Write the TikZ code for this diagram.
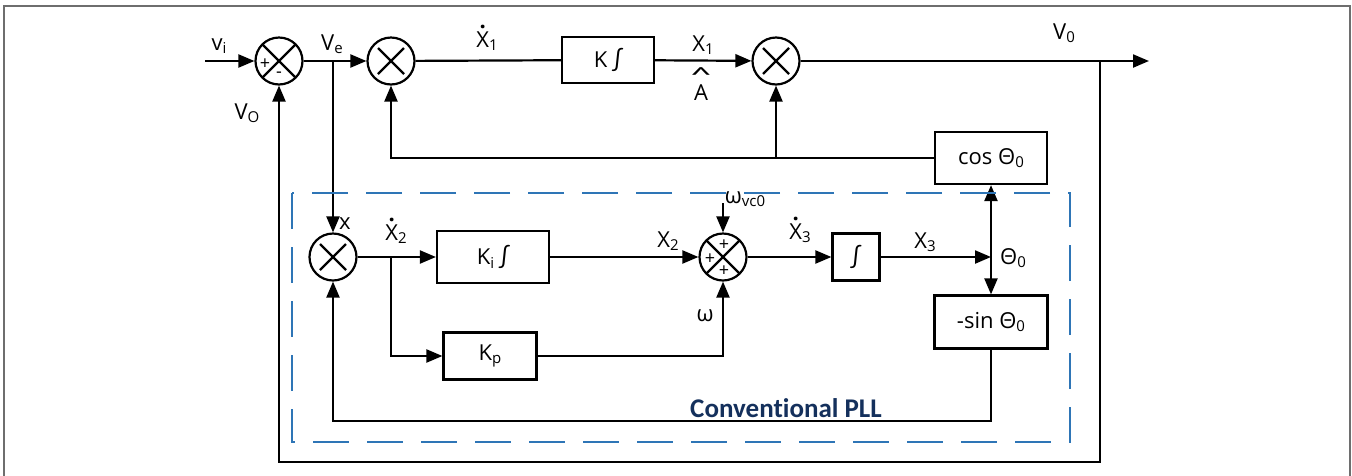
\documentclass[tikz,border=0pt]{standalone}
\usepackage{fontspec}
\setmainfont{Open Sans}
\newfontfamily\carl{Carlito}[Ligatures=CommonOff]
\usetikzlibrary{arrows.meta,positioning,calc}
\definecolor{pllblue}{HTML}{2E75B6}
\definecolor{pllnavy}{HTML}{14305C}
\definecolor{framegray}{HTML}{6E6E6E}
\newcommand{\lsub}[1]{\raisebox{-0.3ex}{\fontsize{15}{15}\selectfont #1}}
\newcommand{\xdot}{\ooalign{X\cr\hidewidth\raisebox{0.85em}{\textbf{.}}\hidewidth\cr}}
\newcommand{\integ}{{\carl\fontsize{25}{25}\selectfont ∫}}
\newcommand{\ahat}{\shortstack{{\carl\scalebox{1.9}[1]{\textasciicircum}}\\[-1pt]A}}

\begin{document}
\begin{tikzpicture}[x=1pt, y=-1pt,
  font=\fontsize{22}{26}\selectfont,
  blk/.style={draw, line width=2.2pt, inner sep=0pt, align=center},
  sumj/.style={draw, circle, line width=2.2pt, minimum size=47pt, inner sep=0pt,
    path picture={\draw[line width=2.2pt]
      ([shift={(-#1pt,-#1pt)}]path picture bounding box.center) -- ([shift={(#1pt,#1pt)}]path picture bounding box.center)
      ([shift={(-#1pt,#1pt)}]path picture bounding box.center) -- ([shift={(#1pt,-#1pt)}]path picture bounding box.center);}},
  sumj/.default=13,
  sgn/.style={font=\fontsize{18}{18}\selectfont, inner sep=0pt},
  lbl/.style={inner sep=0pt},
  arr/.style={-{Triangle[length=16pt,width=13pt]}, line width=2.2pt},
  wire/.style={line width=2.2pt}
]
\useasboundingbox (0,0) rectangle (1352,475);
\draw[framegray, line width=1.3pt] (4,480) -- (4,6) -- (1350,6) -- (1350,480);

\node[sumj=17] (s1) at (279,61) {};
\node[sgn] (s1p) at (265,64) {+};
\node[sgn] (s1m) at (279,75) {-};
\node[sumj] (s2) at (391,61) {};
\node[blk, minimum width=92pt, minimum height=46pt] (k) at (608,60) {K \integ};
\node[sumj] (s3) at (776,61) {};
\node[blk, minimum width=112pt, minimum height=52pt] (cos) at (991,158) {cos Θ\lsub{0}};

\node[sumj] (s4) at (333,257) {};
\node[blk, minimum width=112pt, minimum height=52pt] (ki) at (493,257) {K\lsub{i} \integ};
\node[blk, minimum width=93pt, minimum height=47pt] (kp) at (490,356) {K\lsub{p}};
\node[sumj=17] (s5) at (723,257) {};
\node[sgn] (s5t) at (724,245) {+};
\node[sgn] (s5l) at (710,259) {+};
\node[sgn] (s5b) at (724,271) {+};
\node[blk, minimum size=47pt] (int) at (856,257) {\integ};
\node[blk, minimum width=113pt, minimum height=53pt] (sin) at (991,322) {-sin Θ\lsub{0}};

\node[lbl] (vi) at (219,46) {v\lsub{i}};
\node[lbl] (ve) at (332,44) {V\lsub{e}};
\node[lbl] (vo) at (247,113) {V\lsub{O}};
\node[lbl] (x1d) at (487,41) {\xdot\lsub{1}};
\node[lbl] (x1) at (703,45) {X\lsub{1}};
\node[lbl] (ah) at (701,84) {\ahat};
\node[lbl] (v0) at (1064,33) {V\lsub{0}};
\node[lbl] (xl) at (345,224) {x};
\node[lbl] (x2d) at (396,234) {\xdot\lsub{2}};
\node[lbl] (x2) at (668,241) {X\lsub{2}};
\node[lbl] (wvc) at (745,199) {ω\lsub{vc0}};
\node[lbl] (w) at (705,316) {ω};
\node[lbl] (x3d) at (800,233) {\xdot\lsub{3}};
\node[lbl] (x3) at (925,242) {X\lsub{3}};
\node[lbl] (th0) at (1013,258) {Θ\lsub{0}};
\node[lbl, font=\carl\bfseries\fontsize{27}{30}\selectfont, text=pllnavy] (pll) at (786,408) {Conventional PLL};

\coordinate (vin) at (205,61);
\coordinate (vebr) at (333,61);
\coordinate (vout) at (1149,61);
\coordinate (tap) at (1100,61);
\coordinate (lowr) at (1100,462);
\coordinate (x2br) at (391,257);
\coordinate (wvcin) at (723,203);
\coordinate (thbr) at (991,257);
\coordinate (fb) at (991,421);

\draw[arr] (vin) -- (s1);
\draw[arr] (s1) -- (s2);
\draw[arr] (vebr) -- (s4);
\draw[wire] (s2) -- (k);
\draw[arr] (k) -- (s3);
\draw[arr] (s3) -- (vout);
\draw[arr] (cos.west) -| (s2.south);
\draw[arr] (s3 |- cos.west) -- (s3);
\draw[arr] (tap) -- (lowr) -| (s1.south);

\draw[arr] (s4) -- (ki);
\draw[arr] (x2br) |- (kp);
\draw[arr] (ki) -- (s5);
\draw[arr] (kp) -| (s5);
\draw[arr] (wvcin) -- (s5);
\draw[arr] (s5) -- (int);
\draw[arr] (int) -- (thbr);
\draw[arr] (thbr) -- (cos);
\draw[arr] (thbr) -- (sin);
\draw[arr] (sin) -- (fb) -| (s4);

\draw[pllblue, line width=2.5pt, dash pattern=on 36pt off 18pt] (292,193) rectangle (1070,442);
\end{tikzpicture}
\end{document}
